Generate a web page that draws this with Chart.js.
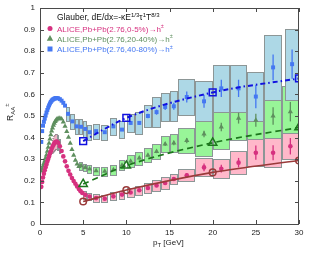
<!DOCTYPE html>
<html>
<head>
<meta charset="utf-8">
<script src="https://cdn.jsdelivr.net/npm/chart.js@4.4.1/dist/chart.umd.min.js"></script>
<style>
  html, body { margin: 0; padding: 0; background: #fff; }
  #wrap { width: 310px; height: 255px; }
</style>
</head>
<body>
<div id="wrap"><canvas id="raaChart" width="310" height="255"></canvas></div>
<script>
// ALICE Pb+Pb 2.76 TeV charged hadron R_AA

// dense low-pT points
const pinkLowPt = [0.15, 0.25, 0.35, 0.45, 0.55, 0.65, 0.75, 0.85, 0.95, 1.05, 1.15, 1.25, 1.35, 1.45, 1.55, 1.65, 1.75, 1.85, 1.95,
  2.1, 2.3, 2.5, 2.7, 2.9, 3.1, 3.3, 3.5, 3.7, 3.9, 4.1, 4.3, 4.5, 4.7, 4.9];
const pinkLowRaa = [0.172, 0.195, 0.215, 0.233, 0.249, 0.263, 0.276, 0.289, 0.301, 0.313, 0.325, 0.337, 0.348, 0.358, 0.366, 0.373, 0.378, 0.381, 0.382,
  0.376, 0.36, 0.338, 0.313, 0.29, 0.267, 0.246, 0.229, 0.213, 0.199, 0.186, 0.174, 0.162, 0.152, 0.144];
// only the boxes round the peak show from under the dense markers
const pinkLowSys = [0, 0, 0, 0, 0, 0, 0, 0, 0, 0, 0, 0, 0, 0.03, 0.032, 0.033, 0.034, 0.035, 0.035,
  0.034, 0.032, 0, 0, 0, 0, 0, 0, 0, 0, 0, 0, 0, 0, 0];
const pinkLowHalf = [0.05, 0.05, 0.05, 0.05, 0.05, 0.05, 0.05, 0.05, 0.05, 0.05, 0.05, 0.05, 0.05, 0.05, 0.05, 0.05, 0.05, 0.05, 0.05,
  0.1, 0.1, 0.1, 0.1, 0.1, 0.1, 0.1, 0.1, 0.1, 0.1, 0.1, 0.1, 0.1, 0.1, 0.1];

const greenLowPt = [0.15, 0.25, 0.35, 0.45, 0.55, 0.65, 0.75, 0.85, 0.95, 1.05, 1.15, 1.25, 1.35, 1.45, 1.55, 1.65, 1.75, 1.85, 1.95,
  2.1, 2.3, 2.5, 2.7, 2.9, 3.1, 3.3, 3.5, 3.7, 3.9, 4.1, 4.3, 4.5];
const greenLowRaa = [0.245, 0.256, 0.268, 0.28, 0.292, 0.305, 0.32, 0.337, 0.355, 0.374, 0.394, 0.413, 0.43, 0.445, 0.457, 0.466, 0.474, 0.48, 0.485,
  0.488, 0.49, 0.486, 0.472, 0.452, 0.428, 0.402, 0.374, 0.345, 0.318, 0.295, 0.278, 0.266];

const blueLowPt = [0.15, 0.25, 0.35, 0.45, 0.55, 0.65, 0.75, 0.85, 0.95, 1.05, 1.15, 1.25, 1.35, 1.45, 1.55, 1.65, 1.75, 1.85, 1.95,
  2.1, 2.3, 2.5, 2.7, 2.9];
const blueLowRaa = [0.38, 0.43, 0.455, 0.473, 0.488, 0.502, 0.516, 0.528, 0.539, 0.549, 0.558, 0.565, 0.571, 0.575, 0.578, 0.58, 0.582, 0.583, 0.583,
  0.582, 0.578, 0.571, 0.561, 0.548];

// binned points: pT, half bin width, R_AA, stat. error, syst. error
const pinkPt   = [5.25, 5.75, 6.5, 7.5, 8.5, 9.5, 10.5, 11.5, 12.5, 13.5, 14.5, 15.5, 17, 19, 21, 23, 25, 27, 29];
const pinkHalf = [0.25, 0.25, 0.4, 0.4, 0.4, 0.4, 0.45, 0.45, 0.45, 0.5, 0.5, 0.5, 1, 1, 1, 1, 1, 1, 1];
const pinkRaa  = [0.135, 0.127, 0.12, 0.117, 0.128, 0.136, 0.146, 0.156, 0.167, 0.178, 0.19, 0.208, 0.226, 0.262, 0.256, 0.284, 0.33, 0.33, 0.36];
const pinkStat = [0.003, 0.003, 0.003, 0.003, 0.004, 0.004, 0.005, 0.005, 0.006, 0.007, 0.008, 0.009, 0.01, 0.018, 0.018, 0.022, 0.033, 0.035, 0.038];
const pinkSys  = [0.018, 0.017, 0.017, 0.017, 0.018, 0.018, 0.02, 0.021, 0.022, 0.026, 0.027, 0.025, 0.027, 0.042, 0.043, 0.052, 0.063, 0.066, 0.06];

const greenPt   = [4.75, 5.25, 5.75, 6.5, 7.5, 8.5, 9.5, 10.5, 11.5, 12.5, 13.5, 14.5, 15.5, 17, 19, 21, 23, 25, 27, 29];
const greenHalf = [0.25, 0.25, 0.25, 0.4, 0.4, 0.4, 0.4, 0.45, 0.45, 0.45, 0.5, 0.5, 0.5, 1, 1, 1, 1, 1, 1, 1];
const greenRaa  = [0.27, 0.262, 0.255, 0.246, 0.244, 0.251, 0.272, 0.29, 0.305, 0.318, 0.336, 0.37, 0.375, 0.386, 0.417, 0.449, 0.49, 0.48, 0.5, 0.52];
const greenStat = [0.003, 0.003, 0.003, 0.003, 0.004, 0.004, 0.005, 0.005, 0.006, 0.007, 0.008, 0.009, 0.01, 0.012, 0.015, 0.02, 0.025, 0.03, 0.04, 0.045];
const greenSys  = [0.018, 0.018, 0.019, 0.02, 0.021, 0.022, 0.024, 0.028, 0.03, 0.032, 0.035, 0.038, 0.04, 0.057, 0.1, 0.1, 0.1, 0.1, 0.115, 0.12];

const bluePt   = [3.25, 3.75, 4.25, 4.75, 5.25, 5.75, 6.5, 7.5, 8.5, 9.5, 10.5, 11.5, 12.5, 13.5, 14.5, 15.5, 17, 19, 21, 23, 25, 27, 29.2];
const blueHalf = [0.25, 0.25, 0.25, 0.25, 0.25, 0.25, 0.4, 0.4, 0.4, 0.4, 0.45, 0.45, 0.45, 0.5, 0.5, 0.5, 1, 1, 1, 1, 1, 1, 0.85];
const blueRaa  = [0.51, 0.475, 0.452, 0.45, 0.44, 0.425, 0.43, 0.425, 0.452, 0.437, 0.468, 0.468, 0.5, 0.518, 0.542, 0.545, 0.588, 0.568, 0.628, 0.628, 0.59, 0.725, 0.74];
const blueStat = [0.004, 0.004, 0.004, 0.004, 0.005, 0.005, 0.005, 0.006, 0.006, 0.007, 0.008, 0.009, 0.01, 0.012, 0.014, 0.016, 0.025, 0.03, 0.04, 0.04, 0.054, 0.06, 0.068];
const blueSys  = [0.032, 0.034, 0.035, 0.035, 0.035, 0.035, 0.035, 0.035, 0.04, 0.04, 0.04, 0.05, 0.05, 0.07, 0.065, 0.07, 0.082, 0.092, 0.11, 0.11, 0.115, 0.152, 0.164];

// Glauber model curves
const theoryPt = [5, 10, 20, 30];
const theoryCentral = [0.104, 0.157, 0.239, 0.294];
const theoryMid = [0.185, 0.27, 0.376, 0.447];
const theoryPeri = [0.384, 0.491, 0.609, 0.674];

const xTicks = [0, 5, 10, 15, 20, 25, 30];
const yTicks = [0, 0.1, 0.2, 0.3, 0.4, 0.5, 0.6, 0.7, 0.8, 0.9, 1];
const xTickLabels = ["0", "5", "10", "15", "20", "25", "30"];
const yTickLabels = ["0", "0.1", "0.2", "0.3", "0.4", "0.5", "0.6", "0.7", "0.8", "0.9", "1"];

const legendLabels = ["ALICE,Pb+Pb(2.76,0-5%)\u2192h", "ALICE,Pb+Pb(2.76,20-40%)\u2192h", "ALICE,Pb+Pb(2.76,40-80%)\u2192h"];

// colours
const pinkColor = "#d6307f";
const greenColor = "#5e8f5e";
const blueColor = "#4477f2";
const FONT = "'Liberation Sans', Arial, sans-serif";

function toPoints(xs, ys) {
  return xs.map((v, i) => ({ x: v, y: ys[i] }));
}

const boxSets = [
  { pt: pinkLowPt, half: pinkLowHalf, raa: pinkLowRaa, sys: pinkLowSys, fill: "#e7a6b8", color: pinkColor },
  { pt: greenPt, half: greenHalf, raa: greenRaa, stat: greenStat, sys: greenSys, fill: "#98f598", color: greenColor },
  { pt: pinkPt, half: pinkHalf, raa: pinkRaa, stat: pinkStat, sys: pinkSys, fill: "#ffb8ca", color: pinkColor },
  { pt: bluePt, half: blueHalf, raa: blueRaa, stat: blueStat, sys: blueSys, fill: "#add8e6", color: blueColor }
];

// systematic boxes + stat error bars, under the markers
const errorPlugin = {
  id: "errorBoxes",
  beforeDatasetsDraw(chart) {
    const { ctx, chartArea, scales } = chart;
    const x = scales.x, y = scales.y;
    ctx.save();
    ctx.beginPath();
    ctx.rect(chartArea.left, chartArea.top, chartArea.width, chartArea.height);
    ctx.clip();
    ctx.lineWidth = 1;
    for (const s of boxSets) {
      for (let i = 0; i < s.pt.length; i++) {
        if (!s.sys[i]) continue;
        const y0 = Math.round(y.getPixelForValue(s.raa[i] + s.sys[i])) + 0.5;
        const y1 = Math.round(y.getPixelForValue(s.raa[i] - s.sys[i])) + 0.5;
        if (s.half[i] < 0.1) {
          // narrow low-pT bins: just a grey outline column
          const px = x.getPixelForValue(s.pt[i]);
          ctx.fillStyle = s.fill;
          ctx.fillRect(px - 0.5, y0, 1, y1 - y0);
          ctx.strokeStyle = "#9a8890";
          ctx.beginPath();
          ctx.moveTo(px - 1, y0); ctx.lineTo(px + 1, y0);
          ctx.moveTo(px - 1, y1); ctx.lineTo(px + 1, y1);
          ctx.stroke();
          continue;
        }
        const x0 = Math.round(x.getPixelForValue(s.pt[i] - s.half[i])) + 0.5;
        const x1 = Math.round(x.getPixelForValue(s.pt[i] + s.half[i])) - 0.5;
        ctx.fillStyle = s.fill;
        ctx.fillRect(x0, y0, x1 - x0, y1 - y0);
        ctx.strokeStyle = "#8c9696";
        ctx.strokeRect(x0, y0, x1 - x0, y1 - y0);
      }
    }
    ctx.lineWidth = 1.3;
    for (const s of boxSets) {
      if (!s.stat) continue;
      ctx.strokeStyle = s.color;
      for (let i = 0; i < s.pt.length; i++) {
        const px = x.getPixelForValue(s.pt[i]);
        ctx.beginPath();
        ctx.moveTo(px, y.getPixelForValue(s.raa[i] + s.stat[i]));
        ctx.lineTo(px, y.getPixelForValue(s.raa[i] - s.stat[i]));
        ctx.stroke();
      }
    }
    ctx.restore();
  }
};

function drawMarker(ctx, style, cx, cy, r, color) {
  ctx.fillStyle = color;
  ctx.beginPath();
  if (style === "circle") {
    ctx.arc(cx, cy, r, 0, Math.PI * 2);
  } else if (style === "triangle") {
    ctx.moveTo(cx, cy - r * 1.1);
    ctx.lineTo(cx + r, cy + r * 0.7);
    ctx.lineTo(cx - r, cy + r * 0.7);
    ctx.closePath();
  } else {
    ctx.rect(cx - r, cy - r, 2 * r, 2 * r);
  }
  ctx.fill();
}

// text with raised or lowered parts
function drawRich(ctx, parts, x, y) {
  for (const p of parts) {
    ctx.font = p.size + "px " + FONT;
    ctx.fillText(p.t, x, y + (p.dy || 0));
    x += ctx.measureText(p.t).width;
  }
  return x;
}

// frame, inward ticks, tick labels, axis titles and the legend
const decorPlugin = {
  id: "decor",
  afterDraw(chart) {
    const { ctx, chartArea, scales } = chart;
    const x = scales.x, y = scales.y;
    const L = chartArea.left, R = chartArea.right, T = chartArea.top, B = chartArea.bottom;
    ctx.save();
    ctx.strokeStyle = "#4a4a4a";
    ctx.lineWidth = 1;
    ctx.strokeRect(Math.round(L) + 0.5, Math.round(T) + 0.5, Math.round(R - L) - 1, Math.round(B - T));
    ctx.beginPath();
    for (const v of xTicks) {
      const px = Math.round(x.getPixelForValue(v)) + 0.5;
      ctx.moveTo(px, B); ctx.lineTo(px, B - 4);
      ctx.moveTo(px, T); ctx.lineTo(px, T + 4);
    }
    for (const v of yTicks) {
      const py = Math.round(y.getPixelForValue(v)) + 0.5;
      ctx.moveTo(L, py); ctx.lineTo(L + 4, py);
      ctx.moveTo(R, py); ctx.lineTo(R - 4, py);
    }
    ctx.stroke();

    // tick labels
    ctx.fillStyle = "#222";
    ctx.font = "8px " + FONT;
    ctx.textAlign = "center";
    ctx.textBaseline = "middle";
    xTicks.forEach((v, i) => ctx.fillText(xTickLabels[i], x.getPixelForValue(v), B + 8.5));
    ctx.textAlign = "right";
    yTicks.forEach((v, i) => ctx.fillText(yTickLabels[i], L - 5, y.getPixelForValue(v)));

    ctx.textBaseline = "alphabetic";
    ctx.textAlign = "left";
    // x title
    drawRich(ctx, [{ t: "p", size: 8 }, { t: "T", size: 6, dy: 2 }, { t: " [GeV]", size: 8 }], 153, 245);
    // y title
    ctx.save();
    ctx.translate(13, 121);
    ctx.rotate(-Math.PI / 2);
    drawRich(ctx, [{ t: "R", size: 8.5 }, { t: "AA", size: 6, dy: 2 }, { t: "\u00b1", size: 6, dy: -4 }], 0, 0);
    ctx.restore();

    // legend
    ctx.fillStyle = "#111";
    drawRich(ctx, [
      { t: "Glauber, dE/dx=-\u03baE", size: 8.5 },
      { t: "1/3", size: 6, dy: -3.5 },
      { t: "\u03c4", size: 8.5 },
      { t: "1", size: 6, dy: -3.5 },
      { t: "T", size: 8.5 },
      { t: "8/3", size: 6, dy: -3.5 }
    ], 57, 20);
    const legendColors = [pinkColor, greenColor, blueColor];
    const legendStyles = ["circle", "triangle", "rect"];
    const legendY = [28.5, 38.5, 49];
    for (let i = 0; i < legendLabels.length; i++) {
      drawMarker(ctx, legendStyles[i], 50, legendY[i], i === 1 ? 3.2 : 2.5, legendColors[i]);
      ctx.fillStyle = legendColors[i];
      drawRich(ctx, [{ t: legendLabels[i], size: 8 }, { t: "\u00b1", size: 5.5, dy: -3.5 }], 57, legendY[i] + 3);
    }
    ctx.restore();
  }
};

const ctx = document.getElementById("raaChart").getContext("2d");
const chart = new Chart(ctx, {
  type: "scatter",
  data: {
    datasets: [
      {
        data: toPoints(theoryPt, theoryCentral), showLine: true, cubicInterpolationMode: "monotone",
        borderColor: "#9a3a3a", borderWidth: 1.6, pointStyle: "circle", pointRadius: 3.3,
        pointBorderWidth: 1.5, pointBorderColor: "#9a3a3a", pointBackgroundColor: "rgba(0,0,0,0)"
      },
      {
        data: toPoints(theoryPt, theoryMid), showLine: true, cubicInterpolationMode: "monotone",
        borderColor: "#1c761c", borderWidth: 1.7, borderDash: [6, 4], pointStyle: "triangle", pointRadius: 4.8,
        pointBorderWidth: 1.5, pointBorderColor: "#1c761c", pointBackgroundColor: "rgba(0,0,0,0)"
      },
      {
        data: toPoints(theoryPt, theoryPeri), showLine: true, cubicInterpolationMode: "monotone",
        borderColor: "#1010e0", borderWidth: 2, borderDash: [5, 3, 1.5, 3], pointStyle: "rect", pointRadius: 4.8,
        pointBorderWidth: 1.5, pointBorderColor: "#1010e0", pointBackgroundColor: "rgba(0,0,0,0)"
      },
      { data: toPoints(pinkPt, pinkRaa), pointStyle: "circle", pointRadius: 2.3, pointBorderWidth: 0, pointBackgroundColor: pinkColor },
      { data: toPoints(greenPt, greenRaa), pointStyle: "triangle", pointRadius: 3, pointBorderWidth: 0, pointBackgroundColor: greenColor },
      { data: toPoints(bluePt, blueRaa), pointStyle: "rect", pointRadius: 2.8, pointBorderWidth: 0, pointBackgroundColor: blueColor },
      { data: toPoints(pinkLowPt, pinkLowRaa), pointStyle: "circle", pointRadius: 2.3, pointBorderWidth: 0, pointBackgroundColor: pinkColor },
      { data: toPoints(greenLowPt, greenLowRaa), pointStyle: "triangle", pointRadius: 3, pointBorderWidth: 0, pointBackgroundColor: greenColor },
      { data: toPoints(blueLowPt, blueLowRaa), pointStyle: "rect", pointRadius: 2.8, pointBorderWidth: 0, pointBackgroundColor: blueColor }
    ]
  },
  options: {
    responsive: false,
    animation: false,
    events: [],
    layout: { padding: { top: 8, right: 11, left: 0, bottom: 0 } },
    plugins: { legend: { display: false }, tooltip: { enabled: false } },
    scales: {
      x: {
        type: "linear", min: 0, max: 30,
        grid: { display: false, drawTicks: false }, border: { display: false },
        ticks: { display: false },
        afterFit: (scale) => { scale.height = 31; }
      },
      y: {
        type: "linear", min: 0, max: 1,
        grid: { display: false, drawTicks: false }, border: { display: false },
        ticks: { display: false },
        afterFit: (scale) => { scale.width = 40; }
      }
    }
  },
  plugins: [errorPlugin, decorPlugin]
});
</script>
</body>
</html>
